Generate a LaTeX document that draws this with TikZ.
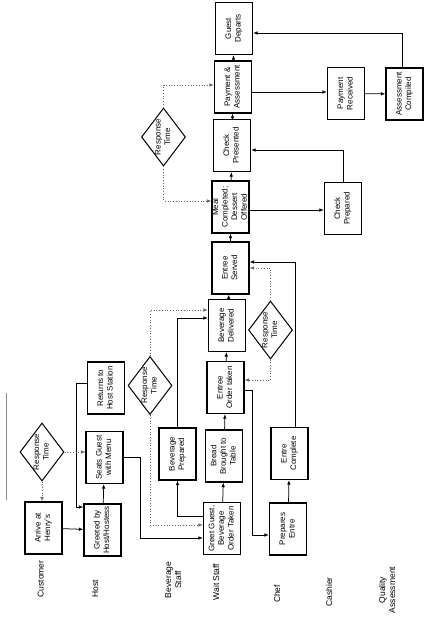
\documentclass[tikz,border=0pt]{standalone}
\usepackage{fontspec}
\setmainfont{Liberation Sans}
\usepackage{graphicx}
\usepackage{tikz}
\usetikzlibrary{arrows.meta,shapes.geometric}

% every text of the chart reads from bottom to top
\newcommand{\uptext}[1]{\rotatebox{90}{\begin{tabular}{@{}c@{}}#1\end{tabular}}}

\tikzset{
  stepbox/.style={draw, line width=1.2pt, minimum width=37pt, minimum height=52pt,
    inner sep=0pt, font=\fontsize{8}{9.6}\selectfont},
  rtime/.style={draw, diamond, line width=1pt, aspect=0.76, minimum width=44pt,
    minimum height=58pt, inner xsep=0pt, inner ysep=-3pt, font=\fontsize{8}{9.6}\selectfont},
  lane/.style={inner sep=1pt, font=\fontsize{8.5}{10}\selectfont},
  arr/.style={-{Latex[length=4.5pt,width=3.5pt]}, line width=0.75pt},
  dot/.style={arr, dotted, draw=black!60},
}

\begin{document}
\begin{tikzpicture}[x=1pt, y=1pt]
  \useasboundingbox (0,0) rectangle (427,-620);

  % -- the cut-off title line at the left edge
  \draw[black!45, line width=0.6pt] (6,-393) -- (6,-500);

  % -- lane names along the bottom
  \node[lane] (lcust) at (41.5,-579) {\uptext{Customer}};
  \node[lane] (lhost) at (96,-589)   {\uptext{Host}};
  \node[lane] (lbev)  at (174,-580)  {\uptext{Beverage\\Staff}};
  \node[lane] (lwait) at (217,-582)  {\uptext{Wait Staff}};
  \node[lane] (lchef) at (278,-594)  {\uptext{Chef}};
  \node[lane] (lcash) at (330,-592)  {\uptext{Cashier}};
  \node[lane] (lqual) at (388,-590)  {\uptext{Quality\\Assessment}};

  % -- customer and host
  \node[stepbox] (arrive)  at (43.5,-528) {\uptext{Arrive at\\Henry's}};
  \node[stepbox] (greeted) at (102.5,-530) {\uptext{Greeted by\\Host/Hostess}};
  \node[stepbox] (seats)   at (104.5,-457.5) {\uptext{Seats Guest\\with Menu}};
  \node[stepbox] (returns) at (106,-388) {\uptext{Returns to\\Host Station}};

  % -- beverage staff and wait staff
  \node[stepbox] (bevprep) at (177.5,-454) {\uptext{Beverage\\Prepared}};
  \node[stepbox] (greet)   at (222,-528.5) {\uptext{Greet Guest,\\Beverage\\Order Taken}};
  \node[stepbox] (bread)   at (224,-456) {\uptext{Bread\\Brought to\\Table}};
  \node[stepbox] (eot)     at (225.5,-387.5) {\uptext{Entree\\Order taken}};
  \node[stepbox] (bevdel)  at (227,-325.5) {\uptext{Beverage\\Delivered}};
  \node[stepbox] (served)  at (230.5,-268) {\uptext{Entree\\Served}};
  \node[stepbox] (meal)    at (230.5,-207)
    {\makebox[0pt]{\uptext{Meal\\Completed;\\Dessert\\Offered}}};
  \node[stepbox] (chkpres) at (232,-145.5) {\uptext{Check\\Presented}};
  \node[stepbox] (pay)     at (233,-87) {\uptext{Payment \&\\Assessment}};
  \node[stepbox] (departs) at (234,-28.5) {\uptext{Guest\\Departs}};

  % -- chef, cashier, quality assessment
  \node[stepbox] (prepent)  at (288,-529) {\uptext{Prepares\\Entre}};
  \node[stepbox] (complete) at (289.5,-453.5) {\uptext{Entre\\Complete}};
  \node[stepbox] (chkprep)  at (343,-208.5) {\uptext{Check\\Prepared}};
  \node[stepbox] (payrec)   at (346,-93.5) {\uptext{Payment\\Received}};
  \node[stepbox] (assess)   at (404.5,-94) {\uptext{Assessment\\Compiled}};

  % -- response time checks
  \node[rtime] (d1) at (42,-452)    {\uptext{Response\\Time}};
  \node[rtime] (d2) at (150,-385.5) {\uptext{Response\\Time}};
  \node[rtime] (d3) at (270.5,-330) {\uptext{Response\\Time}};
  \node[rtime] (d4) at (163.5,-137) {\uptext{Response\\Time}};

  % -- main flow
  \draw[arr] (arrive) -- (greeted);
  \draw[arr] (greeted) -- (seats);
  \draw[arr] ([yshift=5]returns.west) -- ++(-11,0) |- ([yshift=23]greeted.west);
  \draw[arr] (seats.east) -- ++(17,0) |- ([yshift=-9.5]greet.west);
  \draw[arr] ([yshift=12.5]greet.west) -| (bevprep.south);
  \draw[arr] (bevprep.north) |- ([yshift=7.5]bevdel.west);
  \draw[arr] (greet) -- (bread);
  \draw[arr] (bread) -- (eot);
  \draw[arr] (eot) -- (bevdel);
  \draw[arr] (bevdel) -- (served);
  \draw[arr] (served) -- (meal);
  \draw[arr] (meal) -- (chkpres);
  \draw[arr] (chkpres) -- (pay);
  \draw[arr] (pay) -- (departs);
  \draw[arr] ([yshift=-2.5]eot.east) -- ++(8,0) |- ([yshift=-6]prepent.west);
  \draw[arr] (prepent) -- (complete);
  \draw[arr] ([xshift=5.5]complete.north) |- ([yshift=6]served.east);
  \draw[arr] ([yshift=-3]meal.east) -- ([yshift=-3]meal.east -| chkprep.west);
  \draw[arr] (chkprep.north) |- ([yshift=-4.5]chkpres.east);
  \draw[arr] ([yshift=-5]pay.east) -- ([yshift=-5]pay.east -| payrec.west);
  \draw[arr] (payrec) -- (assess);
  \draw[arr] ([xshift=-2.5]assess.north) |- ([yshift=-4.5]departs.east);

  % -- dotted timing links
  \draw[dot] (d1.south) -- (d1.south |- arrive.north);
  \draw[dot] (d1.east) -- (d1.east -| seats.west);
  \draw[dot] (d2.south) |- ([yshift=3.5]greet.west);
  \draw[dot] (d2.north) |- ([yshift=15.5]bevdel.west);
  \draw[dot] (d3.south) |- ([yshift=7.5]eot.east);
  \draw[dot] (d3.north) |- (served.east);
  \draw[dot] (d4.north) |- ([yshift=2]pay.west);
  \draw[dot] (d4.south) |- ([yshift=6]meal.west);

\end{tikzpicture}
\end{document}
